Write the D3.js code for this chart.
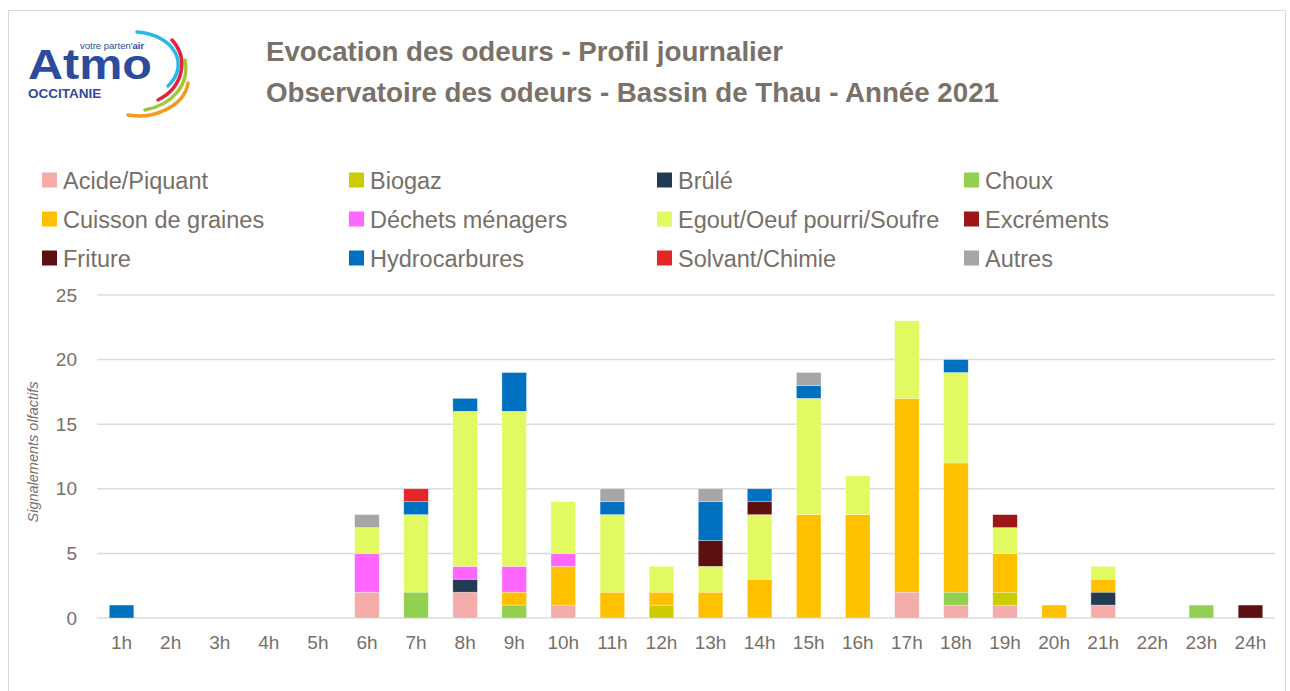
<!DOCTYPE html>
<html>
<head>
<meta charset="utf-8">
<script src="https://cdn.jsdelivr.net/npm/d3@7"></script>
<style>
  body { margin: 0; background: #fff; }
  text { font-family: "Liberation Sans", Arial, sans-serif; }
</style>
</head>
<body>
<div id="container"></div>
<script>
// hours of the day
const hours = ["1h","2h","3h","4h","5h","6h","7h","8h","9h","10h","11h","12h",
  "13h","14h","15h","16h","17h","18h","19h","20h","21h","22h","23h","24h"];

// odour categories (stack order, bottom to top)
const odeurs = ["Acide/Piquant","Biogaz","Brûlé","Choux","Cuisson de graines","Déchets ménagers",
  "Egout/Oeuf pourri/Soufre","Excréments","Friture","Hydrocarbures","Solvant/Chimie","Autres"];

const colors = ["#f4acab","#cccc00","#233a52","#92d050","#ffc000","#ff66ff",
  "#e3f962","#9e1717","#5e0f0f","#0070c0","#e32626","#a6a6a6"];

// counts per hour for each category
const acide      = [0,0,0,0,0,2,0,2,0,1,0,0,0,0,0,0,2,1,1,0,1,0,0,0];
const biogaz     = [0,0,0,0,0,0,0,0,0,0,0,1,0,0,0,0,0,0,1,0,0,0,0,0];
const brule      = [0,0,0,0,0,0,0,1,0,0,0,0,0,0,0,0,0,0,0,0,1,0,0,0];
const choux      = [0,0,0,0,0,0,2,0,1,0,0,0,0,0,0,0,0,1,0,0,0,0,1,0];
const cuisson    = [0,0,0,0,0,0,0,0,1,3,2,1,2,3,8,8,15,10,3,1,1,0,0,0];
const dechets    = [0,0,0,0,0,3,0,1,2,1,0,0,0,0,0,0,0,0,0,0,0,0,0,0];
const egout      = [0,0,0,0,0,2,6,12,12,4,6,2,2,5,9,3,6,7,2,0,1,0,0,0];
const excrements = [0,0,0,0,0,0,0,0,0,0,0,0,0,0,0,0,0,0,1,0,0,0,0,0];
const friture    = [0,0,0,0,0,0,0,0,0,0,0,0,2,1,0,0,0,0,0,0,0,0,0,1];
const hydro      = [1,0,0,0,0,0,1,1,3,0,1,0,3,1,1,0,0,1,0,0,0,0,0,0];
const solvant    = [0,0,0,0,0,0,1,0,0,0,0,0,0,0,0,0,0,0,0,0,0,0,0,0];
const autres     = [0,0,0,0,0,1,0,0,0,0,1,0,1,0,1,0,0,0,0,0,0,0,0,0];

const yTicks = [0, 5, 10, 15, 20, 25];

const values = [acide, biogaz, brule, choux, cuisson, dechets, egout, excrements, friture, hydro, solvant, autres];
const table = hours.map((h, i) => {
  const row = { hour: h };
  odeurs.forEach((k, j) => row[k] = values[j][i]);
  return row;
});

const width = 1290;
const height = 691;
const marginLeft = 97;
const marginRight = 15;
const plotTop = 295;
const plotBottom = 618;
const textColor = "#776f67";

const svg = d3.create("svg")
  .attr("width", width)
  .attr("height", height)
  .attr("viewBox", [0, 0, width, height]);

// outer frame
svg.append("rect")
  .attr("x", 8.5).attr("y", 10.5)
  .attr("width", 1277).attr("height", 690)
  .attr("fill", "none")
  .attr("stroke", "#d9d9d9");

// logo
const logo = svg.append("g").attr("class", "logo");
logo.append("text")
  .attr("x", 28).attr("y", 79)
  .attr("font-size", 42).attr("font-weight", "bold")
  .attr("textLength", 124)
  .attr("lengthAdjust", "spacingAndGlyphs")
  .attr("fill", "#2d4b9b")
  .text("Atmo");
logo.append("text")
  .attr("x", 28).attr("y", 98)
  .attr("font-size", 13.5).attr("font-weight", "bold")
  .attr("fill", "#2d4b9b")
  .text("OCCITANIE");
const slogan = logo.append("text")
  .attr("x", 80).attr("y", 49)
  .attr("font-size", 9.5)
  .attr("fill", "#2d4b9b");
slogan.append("tspan").text("votre parten'");
slogan.append("tspan").attr("font-weight", "bold").text("air");
const arcs = [
  ["M137,32 C175,35 190,65 168,86", "#29b6e8"],
  ["M172,40 C190,60 182,88 158,100", "#e6213f"],
  ["M185,60 C190,85 172,105 145,110", "#9cc93a"],
  ["M188,83 C185,105 155,120 128,115", "#f39a1f"]
];
logo.selectAll("path")
  .data(arcs)
  .join("path")
  .attr("d", d => d[0])
  .attr("fill", "none")
  .attr("stroke", d => d[1])
  .attr("stroke-width", 3.5)
  .attr("stroke-linecap", "round");

// title
svg.append("text")
  .attr("x", 266).attr("y", 61)
  .attr("font-size", 27.7).attr("font-weight", "bold")
  .attr("fill", "#7a7169")
  .text("Evocation des odeurs - Profil journalier");
svg.append("text")
  .attr("x", 266).attr("y", 102)
  .attr("font-size", 27.7).attr("font-weight", "bold")
  .attr("fill", "#7a7169")
  .text("Observatoire des odeurs - Bassin de Thau - Année 2021");

// legend
const legendX = [42, 349, 657, 964];
const legend = svg.append("g")
  .selectAll("g")
  .data(odeurs)
  .join("g")
  .attr("transform", (d, i) => `translate(${legendX[i % 4]},${180 + Math.floor(i / 4) * 39})`);
legend.append("rect")
  .attr("x", 0).attr("y", -7.5)
  .attr("width", 15).attr("height", 15)
  .attr("fill", (d, i) => colors[i]);
legend.append("text")
  .attr("x", 21).attr("y", 8.5)
  .attr("font-size", 23.5)
  .attr("fill", textColor)
  .text(d => d);

// scales
const x = d3.scaleBand()
  .domain(hours)
  .range([marginLeft, width - marginRight])
  .paddingInner(0.5)
  .paddingOuter(0.25);

const y = d3.scaleLinear()
  .domain([0, 25])
  .range([plotBottom, plotTop]);

const color = d3.scaleOrdinal().domain(odeurs).range(colors);

// gridlines
svg.append("g")
  .selectAll("line")
  .data(yTicks)
  .join("line")
  .attr("x1", marginLeft).attr("x2", width - marginRight)
  .attr("y1", d => y(d)).attr("y2", d => y(d))
  .attr("stroke", "#dcdcdc")
  .attr("stroke-width", 1.5);

// y axis
svg.append("g")
  .attr("transform", `translate(${marginLeft - 20},0)`)
  .call(d3.axisLeft(y).tickValues(yTicks).tickSize(0).tickPadding(0))
  .call(g => g.select(".domain").remove())
  .selectAll("text")
  .attr("font-family", "Liberation Sans, Arial, sans-serif")
  .attr("font-size", 19)
  .attr("fill", textColor);

// x axis
svg.append("g")
  .attr("transform", `translate(0,${plotBottom})`)
  .call(d3.axisBottom(x).tickSize(0).tickPadding(18))
  .call(g => g.select(".domain").remove())
  .selectAll("text")
  .attr("font-family", "Liberation Sans, Arial, sans-serif")
  .attr("font-size", 19)
  .attr("fill", textColor);

// y label
svg.append("text")
  .attr("transform", "translate(38,452) rotate(-90)")
  .attr("text-anchor", "middle")
  .attr("font-size", 14.5)
  .attr("font-style", "italic")
  .attr("fill", textColor)
  .text("Signalements olfactifs");

// stacked bars
const series = d3.stack().keys(odeurs)(table);

svg.append("g")
  .selectAll("g")
  .data(series)
  .join("g")
  .attr("fill", d => color(d.key))
  .selectAll("rect")
  .data(d => d.filter(v => v[1] > v[0]))
  .join("rect")
  .attr("x", d => x(d.data.hour))
  .attr("y", d => y(d[1]))
  .attr("width", x.bandwidth())
  .attr("height", d => y(d[0]) - y(d[1]))
  .attr("stroke", "#ffffff")
  .attr("stroke-opacity", 0.5)
  .attr("stroke-width", 0.6);

document.getElementById("container").append(svg.node());
</script>
</body>
</html>
